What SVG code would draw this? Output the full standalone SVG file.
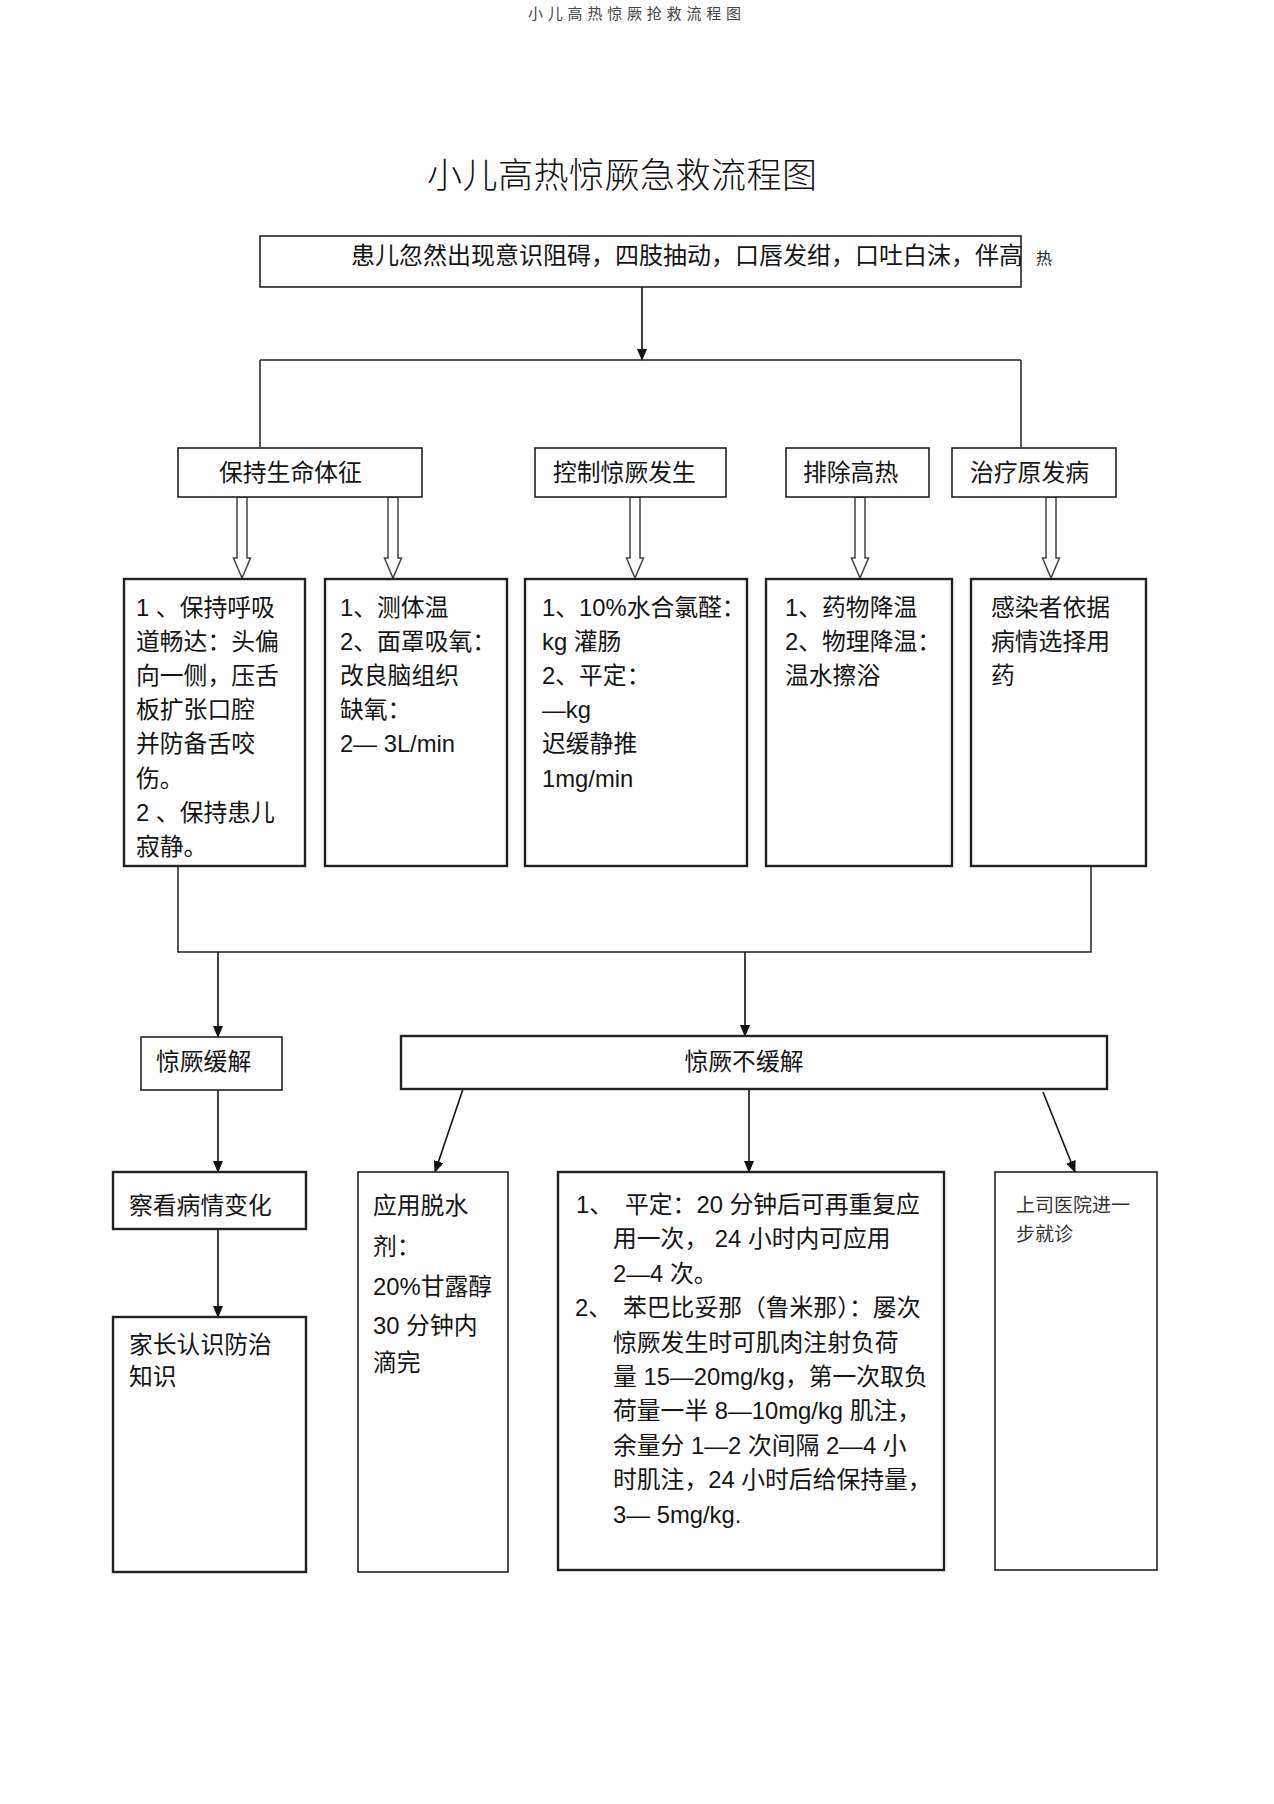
<svg xmlns="http://www.w3.org/2000/svg" width="1274" height="1804" viewBox="0 0 1274 1804">
<defs>
<marker id="ah" markerUnits="userSpaceOnUse" markerWidth="12" markerHeight="10" refX="11" refY="5" orient="auto">
<path d="M0,0 L12,5 L0,10 z" fill="#111"/>
</marker>
<style>
.t{font-family:"Liberation Sans","Noto Sans CJK SC",sans-serif;font-size:23.8px;fill:#151515}
.s{font-family:"Liberation Sans","Noto Sans CJK SC",sans-serif;font-size:19px;fill:#333}
.b{fill:#fff;stroke:#222;stroke-width:1.6}
.bb{fill:#fff;stroke:#222;stroke-width:2.4}
.ln{fill:none;stroke:#222;stroke-width:1.5}
.ar{fill:none;stroke:#111;stroke-width:1.6;marker-end:url(#ah)}
.ha{fill:#fff;stroke:#444;stroke-width:1.5}
</style>
</defs>
<rect width="1274" height="1804" fill="#fff"/>
<text x="528" y="19" style="font-family:'Noto Sans CJK SC',sans-serif;font-size:15px;letter-spacing:4.8px;fill:#444">小儿高热惊厥抢救流程图</text>
<text x="427" y="188" style="font-family:'Noto Sans CJK SC',sans-serif;font-size:35px;font-weight:300;letter-spacing:0.5px;fill:#111">小儿高热惊厥急救流程图</text>

<g id="connectors">
<path class="ar" d="M642,287 L642,360"/>
<path class="ln" d="M260,360 L1021,360 M260,360 L260,447 M1021,360 L1021,447"/>
<path class="ha" d="M237,497 L237,558 L233.5,558 L242,578 L250.5,558 L247,558 L247,497 Z"/>
<path class="ha" d="M388,497 L388,558 L384.5,558 L393,578 L401.5,558 L398,558 L398,497 Z"/>
<path class="ha" d="M630,497 L630,558 L626.5,558 L635,578 L643.5,558 L640,558 L640,497 Z"/>
<path class="ha" d="M855,497 L855,558 L851.5,558 L860,578 L868.5,558 L865,558 L865,497 Z"/>
<path class="ha" d="M1046,497 L1046,558 L1042.5,558 L1051,578 L1059.5,558 L1056,558 L1056,497 Z"/>
<path class="ln" d="M178,866 L178,952 L1091,952 L1091,866"/>
<path class="ar" d="M218,952 L218,1037"/>
<path class="ar" d="M745,952 L745,1036"/>
<path class="ar" d="M218,1090 L218,1172"/>
<path class="ar" d="M463,1089 L435,1172"/>
<path class="ar" d="M749,1089 L749,1172"/>
<path class="ar" d="M1043,1092 L1075,1172"/>
<path class="ar" d="M218,1229 L218,1317"/>
</g>

<g id="start">
<rect class="b" x="260" y="236" width="761" height="51"/>
<text class="t" x="351" y="264" style="font-size:24px">患儿忽然出现意识阻碍，四肢抽动，口唇发绀，口吐白沫，伴高</text>
<text x="1036" y="264" style="font-family:'Noto Sans CJK SC',sans-serif;font-size:16px;fill:#222">热</text>
</g>

<g id="vital">
<rect class="b" x="178" y="448" width="244" height="49"/>
<text class="t" x="219" y="481">保持生命体征</text>
</g>
<g id="control">
<rect class="b" x="535" y="448" width="191" height="49"/>
<text class="t" x="553" y="481">控制惊厥发生</text>
</g>
<g id="fever">
<rect class="b" x="786" y="448" width="143" height="49"/>
<text class="t" x="803" y="481">排除高热</text>
</g>
<g id="cause">
<rect class="b" x="952" y="448" width="164" height="49"/>
<text class="t" x="970" y="481">治疗原发病</text>
</g>

<g id="airway">
<rect class="bb" x="124" y="579" width="181" height="287"/>
<text class="t" x="136" y="616">1 、保持呼吸</text>
<text class="t" x="136" y="650">道畅达：头偏</text>
<text class="t" x="136" y="684">向一侧，压舌</text>
<text class="t" x="136" y="718">板扩张口腔</text>
<text class="t" x="136" y="752">并防备舌咬</text>
<text class="t" x="136" y="787">伤。</text>
<text class="t" x="136" y="821">2 、保持患儿</text>
<text class="t" x="136" y="855">寂静。</text>
</g>
<g id="oxygen">
<rect class="bb" x="325" y="579" width="182" height="287"/>
<text class="t" x="340" y="616">1、测体温</text>
<text class="t" x="340" y="650">2、面罩吸氧：</text>
<text class="t" x="340" y="684">改良脑组织</text>
<text class="t" x="340" y="718">缺氧：</text>
<text class="t" x="340" y="752">2— 3L/min</text>
</g>
<g id="sedate">
<rect class="bb" x="525" y="579" width="222" height="287"/>
<text class="t" x="542" y="616">1、10%水合氯醛：</text>
<text class="t" x="542" y="650">kg 灌肠</text>
<text class="t" x="542" y="684">2、平定：</text>
<text class="t" x="542" y="718">—kg</text>
<text class="t" x="542" y="752">迟缓静推</text>
<text class="t" x="542" y="787">1mg/min</text>
</g>
<g id="cooling">
<rect class="bb" x="766" y="579" width="186" height="287"/>
<text class="t" x="785" y="616">1、药物降温</text>
<text class="t" x="785" y="650">2、物理降温：</text>
<text class="t" x="785" y="684">温水擦浴</text>
</g>
<g id="infection">
<rect class="bb" x="971" y="579" width="175" height="287"/>
<text class="t" x="991" y="616">感染者依据</text>
<text class="t" x="991" y="650">病情选择用</text>
<text class="t" x="991" y="684">药</text>
</g>

<g id="relieved">
<rect class="b" x="141" y="1037" width="141" height="53"/>
<text class="t" x="156" y="1070">惊厥缓解</text>
</g>
<g id="not-relieved">
<rect class="bb" x="401" y="1036" width="706" height="53"/>
<text class="t" x="744" y="1070" text-anchor="middle">惊厥不缓解</text>
</g>

<g id="observe">
<rect class="bb" x="113" y="1172" width="193" height="57"/>
<text class="t" x="129" y="1214">察看病情变化</text>
</g>
<g id="education">
<rect class="bb" x="113" y="1317" width="193" height="255"/>
<text class="t" x="129" y="1353">家长认识防治</text>
<text class="t" x="129" y="1385">知识</text>
</g>
<g id="dehydrate">
<rect class="b" x="358" y="1172" width="150" height="400"/>
<text class="t" x="373" y="1214">应用脱水</text>
<text class="t" x="373" y="1255">剂：</text>
<text class="t" x="373" y="1295">20%甘露醇</text>
<text class="t" x="373" y="1334">30 分钟内</text>
<text class="t" x="373" y="1371">滴完</text>
</g>
<g id="drugs">
<rect class="bb" x="558" y="1172" width="386" height="398"/>
<text class="t" x="576" y="1213">1、</text>
<text class="t" x="625" y="1213">平定：20 分钟后可再重复应</text>
<text class="t" x="613" y="1247">用一次， 24 小时内可应用</text>
<text class="t" x="613" y="1282">2—4 次。</text>
<text class="t" x="575" y="1316">2、</text>
<text class="t" x="623" y="1316">苯巴比妥那（鲁米那）：屡次</text>
<text class="t" x="613" y="1351">惊厥发生时可肌肉注射负荷</text>
<text class="t" x="613" y="1385">量 15—20mg/kg，第一次取负</text>
<text class="t" x="613" y="1419">荷量一半 8—10mg/kg 肌注，</text>
<text class="t" x="613" y="1454">余量分 1—2 次间隔 2—4 小</text>
<text class="t" x="613" y="1488">时肌注，24 小时后给保持量，</text>
<text class="t" x="613" y="1523">3— 5mg/kg.</text>
</g>
<g id="hospital">
<rect class="b" x="995" y="1172" width="162" height="398"/>
<text class="s" x="1016" y="1212">上司医院进一</text>
<text class="s" x="1016" y="1241">步就诊</text>
</g>
</svg>
